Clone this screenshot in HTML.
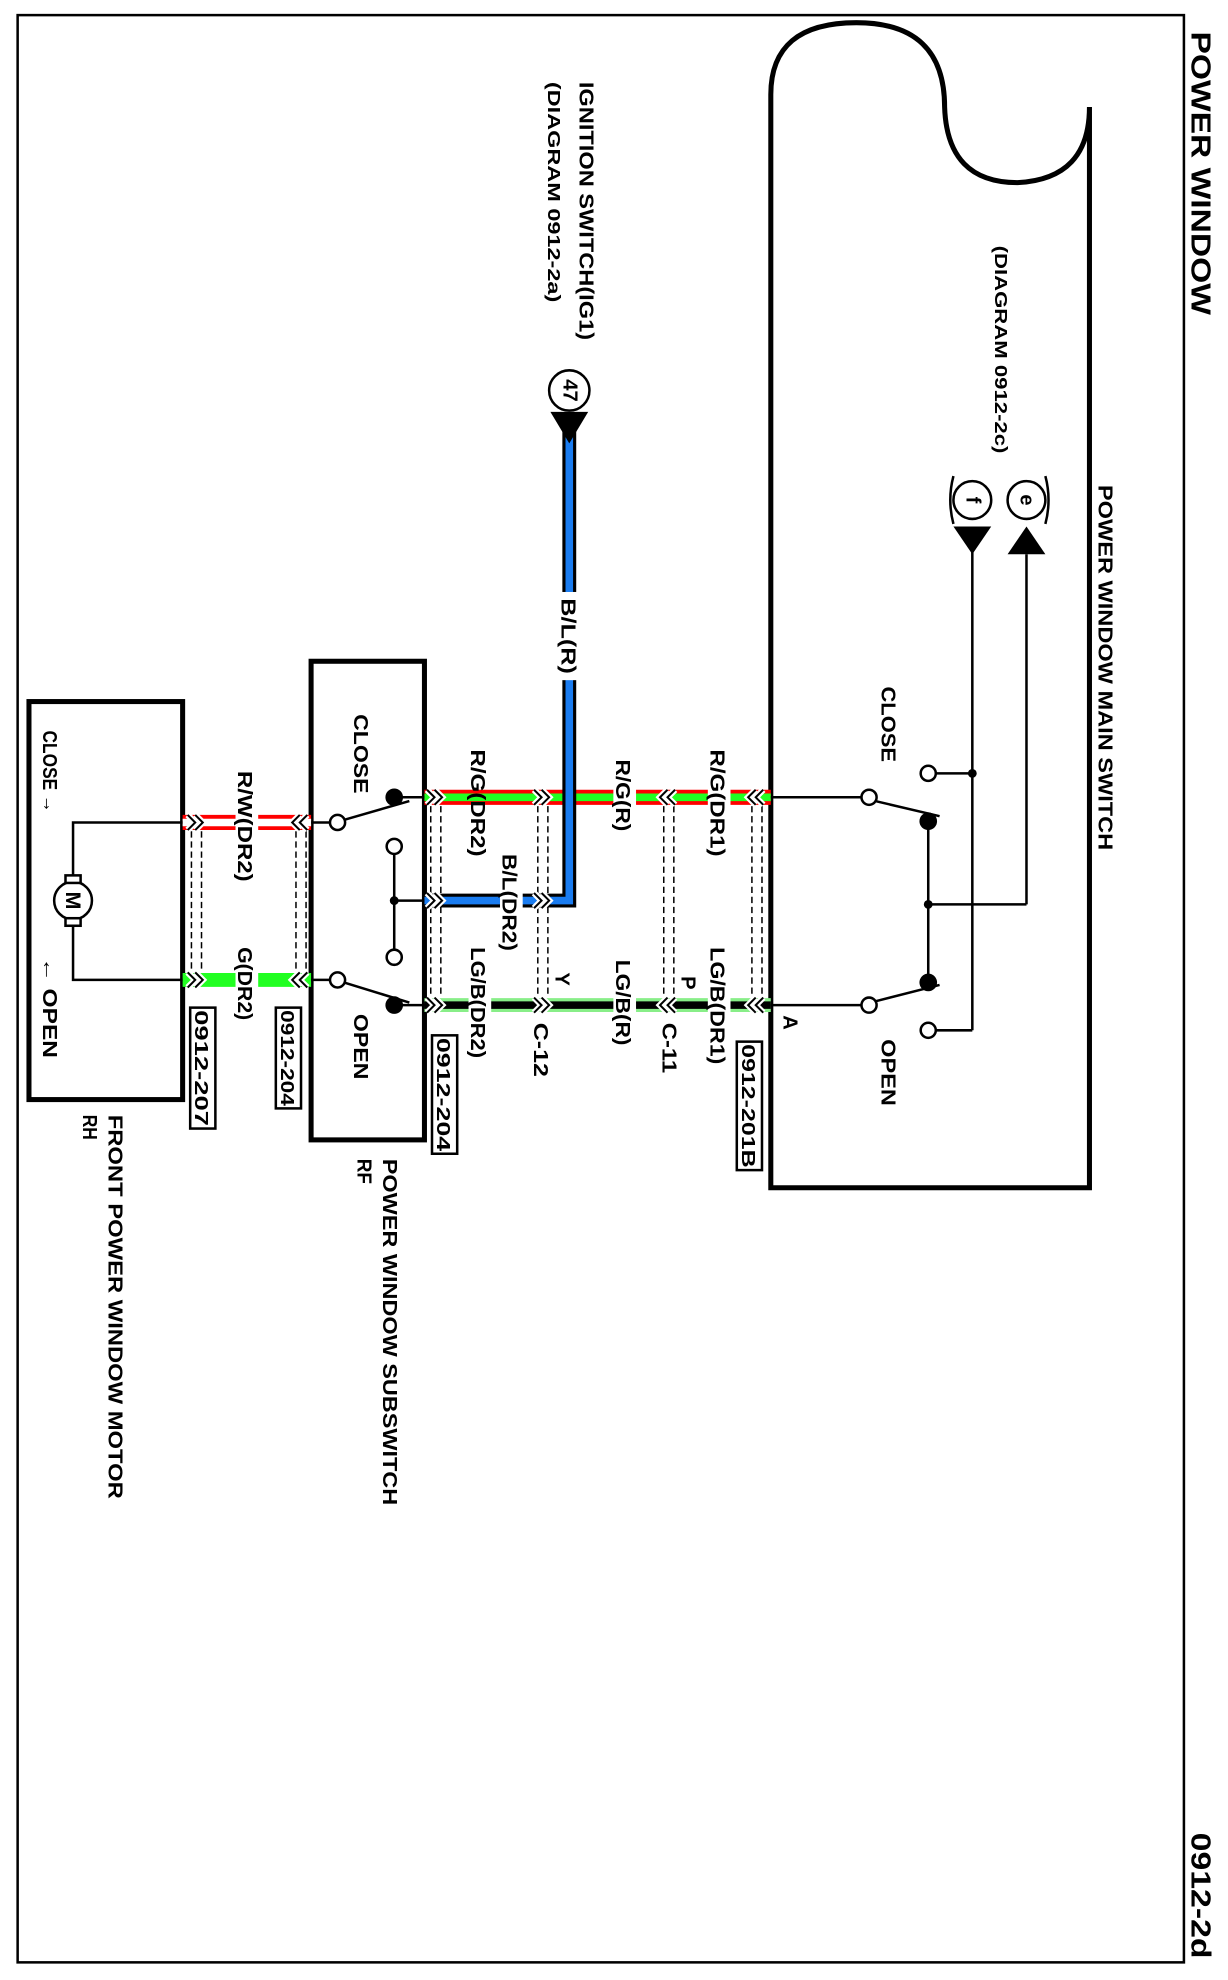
<!DOCTYPE html>
<html><head><meta charset="utf-8"><style>html,body{margin:0;padding:0;background:#fff}svg{display:block}text{font-family:"Liberation Sans",sans-serif;font-weight:bold}</style></head>
<body>
<svg width="1228" height="1980" viewBox="0 0 975 1572" preserveAspectRatio="none" xmlns="http://www.w3.org/2000/svg">
<rect x="0" y="0" width="975" height="1572" fill="#fff"/>
<rect x="14" y="12" width="926" height="1546" fill="none" stroke="#000" stroke-width="2"/>
<defs>
<g id="chR"><path d="M-6,-6 L0,0 L-6,6 M0,-6 L6,0 L0,6" fill="none" stroke="#fff" stroke-width="5"/><path d="M-6,-6 L0,0 L-6,6 M0,-6 L6,0 L0,6" fill="none" stroke="#000" stroke-width="1.6"/></g>
<g id="chL"><path d="M6,-6 L0,0 L6,6 M0,-6 L-6,0 L0,6" fill="none" stroke="#fff" stroke-width="5"/><path d="M6,-6 L0,0 L6,6 M0,-6 L-6,0 L0,6" fill="none" stroke="#000" stroke-width="1.6"/></g>
</defs>
<path d="M612,943 V75 Q612,18 680,18 Q750,18 750,85 Q752,145 808,145 Q865,142 865,85 V943 Z" fill="none" stroke="#000" stroke-width="4"/>
<rect x="247" y="525" width="90" height="380" fill="none" stroke="#000" stroke-width="4"/>
<rect x="23" y="557" width="122" height="316" fill="none" stroke="#000" stroke-width="4"/>

<g>
<line x1="337" y1="633" x2="612" y2="633" stroke="#f00" stroke-width="12"/>
<line x1="337" y1="633" x2="612" y2="633" stroke="#2f2" stroke-width="6"/>
<line x1="337" y1="798" x2="612" y2="798" stroke="#8e8" stroke-width="11"/>
<line x1="337" y1="798" x2="612" y2="798" stroke="#000" stroke-width="6"/>
<path d="M452,340 V715 H337" fill="none" stroke="#000" stroke-width="11"/>
<path d="M452,340 V715 H337" fill="none" stroke="#1a7cf0" stroke-width="6"/>
<line x1="145" y1="653" x2="247" y2="653" stroke="#f00" stroke-width="12"/>
<line x1="145" y1="653" x2="247" y2="653" stroke="#fff" stroke-width="6"/>
<line x1="145" y1="778" x2="247" y2="778" stroke="#2f2" stroke-width="11"/>
</g>
<g stroke="#000" stroke-width="1.2" stroke-dasharray="5,3">
<line x1="597" y1="640" x2="597" y2="792"/><line x1="605" y1="640" x2="605" y2="792"/>
<line x1="527" y1="640" x2="527" y2="792"/><line x1="535" y1="640" x2="535" y2="792"/>
<line x1="427" y1="640" x2="427" y2="792"/><line x1="435" y1="640" x2="435" y2="792"/>
<line x1="342" y1="640" x2="342" y2="792"/><line x1="350" y1="640" x2="350" y2="792"/>
<line x1="235" y1="660" x2="235" y2="772"/><line x1="243" y1="660" x2="243" y2="772"/>
<line x1="152" y1="660" x2="152" y2="772"/><line x1="160" y1="660" x2="160" y2="772"/>
</g>
<use href="#chL" x="600" y="633"/><use href="#chL" x="600" y="798"/>
<use href="#chL" x="530" y="633"/><use href="#chL" x="530" y="798"/>
<use href="#chR" x="430" y="633"/><use href="#chR" x="430" y="798"/><use href="#chR" x="430" y="715"/>
<use href="#chR" x="345" y="633"/><use href="#chR" x="345" y="798"/><use href="#chR" x="345" y="715"/>
<use href="#chL" x="238" y="653"/><use href="#chL" x="238" y="778"/>
<use href="#chR" x="155" y="653"/><use href="#chR" x="155" y="778"/>

<g stroke="#000" stroke-width="2" fill="none">
<line x1="612" y1="633" x2="684" y2="633"/><line x1="612" y1="798" x2="684" y2="798"/>
<line x1="695" y1="636" x2="746" y2="648"/><line x1="695" y1="795" x2="746" y2="782"/>
<line x1="737" y1="652" x2="737" y2="780"/>
<line x1="737" y1="718" x2="815" y2="718"/><line x1="815" y1="718" x2="815" y2="440"/>
<line x1="743" y1="614" x2="772" y2="614"/><line x1="743" y1="818" x2="772" y2="818"/>
<line x1="772" y1="818" x2="772" y2="425"/>
<circle cx="690" cy="633" r="6" fill="#fff"/><circle cx="690" cy="798" r="6" fill="#fff"/>
<circle cx="737" cy="614" r="6" fill="#fff"/><circle cx="737" cy="818" r="6" fill="#fff"/>
<circle cx="772" cy="397" r="15" fill="#fff"/><circle cx="815" cy="397" r="15" fill="#fff"/>
<path d="M757,378 Q752,397 757,416 M830,378 Q835,397 830,416"/>
</g>
<circle cx="737" cy="652" r="7"/><circle cx="737" cy="780" r="7"/><circle cx="737" cy="718" r="3.5"/><circle cx="772" cy="614" r="3.5"/>
<path d="M757,418 L787,418 L772,440 Z"/><path d="M800,440 L830,440 L815,418 Z"/>
<text x="772" y="397" font-size="16" text-anchor="middle" dominant-baseline="central" transform="rotate(90 772 397)">f</text>
<text x="815" y="397" font-size="16" text-anchor="middle" dominant-baseline="central" transform="rotate(90 815 397)">e</text>
<circle cx="452" cy="310" r="16" fill="#fff" stroke="#000" stroke-width="2"/>
<path d="M437,327 L467,327 L452,352 Z"/>
<text x="452" y="310" font-size="16" text-anchor="middle" dominant-baseline="central" transform="rotate(90 452 310)">47</text>

<g stroke="#000" stroke-width="2" fill="none">
<line x1="313" y1="633" x2="337" y2="633"/><line x1="313" y1="798" x2="337" y2="798"/>
<line x1="273" y1="651" x2="325" y2="636"/><line x1="273" y1="780" x2="325" y2="796"/>
<line x1="247" y1="653" x2="262" y2="653"/><line x1="247" y1="778" x2="262" y2="778"/>
<line x1="313" y1="672" x2="313" y2="760"/><line x1="313" y1="715" x2="337" y2="715"/>
<circle cx="268" cy="653" r="6" fill="#fff"/><circle cx="268" cy="778" r="6" fill="#fff"/>
<circle cx="313" cy="672" r="6" fill="#fff"/><circle cx="313" cy="760" r="6" fill="#fff"/>
</g>
<circle cx="313" cy="633" r="7"/><circle cx="313" cy="798" r="7"/><circle cx="313" cy="715" r="3.5"/>

<g stroke="#000" stroke-width="2" fill="none">
<path d="M145,653 H58 V700 M58,730 V778 H145"/>
<circle cx="58" cy="715" r="15" fill="#fff"/>
<rect x="52" y="695" width="12" height="6" fill="#fff"/><rect x="52" y="729" width="12" height="6" fill="#fff"/>
</g>
<text x="58" y="715" font-size="17" text-anchor="middle" dominant-baseline="central" transform="rotate(90 58 715)">M</text>

<g fill="#fff">
<rect x="444" y="470" width="18" height="70"/>
<rect x="372" y="600" width="18" height="22"/><rect x="372" y="645" width="18" height="36"/>
<rect x="487" y="600" width="18" height="70"/>
<rect x="562" y="593" width="18" height="90"/>
<rect x="397" y="676" width="18" height="80"/>
<rect x="372" y="750" width="18" height="92"/>
<rect x="487" y="760" width="18" height="72"/>
<rect x="562" y="750" width="18" height="96"/>
<rect x="187" y="610" width="18" height="92"/><rect x="187" y="750" width="18" height="62"/>
</g>
<g fill="#fff" stroke="#000" stroke-width="2">
<rect x="151" y="800" width="20" height="96"/>
<rect x="219" y="800" width="20" height="80"/>
<rect x="343" y="822" width="20" height="94"/>
<rect x="585" y="827" width="20" height="102"/>
</g>
<g font-size="16">
<text transform="translate(946,25) rotate(90)" font-size="22" font-weight="normal" textLength="225" lengthAdjust="spacingAndGlyphs">POWER WINDOW</text>
<text transform="translate(946,1455) rotate(90)" font-size="22" font-weight="normal" textLength="100" lengthAdjust="spacingAndGlyphs">0912-2d</text>
<text transform="translate(872,385) rotate(90)" textLength="290" lengthAdjust="spacingAndGlyphs">POWER WINDOW MAIN SWITCH</text>
<text transform="translate(790,195) rotate(90)" font-size="14" textLength="165" lengthAdjust="spacingAndGlyphs">(DIAGRAM  0912-2c)</text>
<text transform="translate(700,545) rotate(90)" textLength="60" lengthAdjust="spacingAndGlyphs">CLOSE</text>
<text transform="translate(700,825) rotate(90)" textLength="53" lengthAdjust="spacingAndGlyphs">OPEN</text>
<text transform="translate(622,806) rotate(90)">A</text>
<text transform="translate(460,65) rotate(90)" textLength="205" lengthAdjust="spacingAndGlyphs">IGNITION SWITCH(IG1)</text>
<text transform="translate(435,65) rotate(90)" font-size="14" textLength="175" lengthAdjust="spacingAndGlyphs">(DIAGRAM  0912-2a)</text>
<text transform="translate(446,475) rotate(90)" textLength="60" lengthAdjust="spacingAndGlyphs">B/L(R)</text>
<text transform="translate(374,595) rotate(90)" textLength="85" lengthAdjust="spacingAndGlyphs">R/G(DR2)</text>
<text transform="translate(489,603) rotate(90)" textLength="57" lengthAdjust="spacingAndGlyphs">R/G(R)</text>
<text transform="translate(564,595) rotate(90)" textLength="85" lengthAdjust="spacingAndGlyphs">R/G(DR1)</text>
<text transform="translate(399,678) rotate(90)" textLength="77" lengthAdjust="spacingAndGlyphs">B/L(DR2)</text>
<text transform="translate(374,752) rotate(90)" textLength="88" lengthAdjust="spacingAndGlyphs">LG/B(DR2)</text>
<text transform="translate(441,772) rotate(90)">Y</text>
<text transform="translate(489,762) rotate(90)" textLength="68" lengthAdjust="spacingAndGlyphs">LG/B(R)</text>
<text transform="translate(541,775) rotate(90)">P</text>
<text transform="translate(564,752) rotate(90)" textLength="93" lengthAdjust="spacingAndGlyphs">LG/B(DR1)</text>
<text transform="translate(424,812) rotate(90)" textLength="43" lengthAdjust="spacingAndGlyphs">C-12</text>
<text transform="translate(526,812) rotate(90)" textLength="40" lengthAdjust="spacingAndGlyphs">C-11</text>
<text transform="translate(589,829) rotate(90)" font-size="15" textLength="98" lengthAdjust="spacingAndGlyphs">0912-201B</text>
<text transform="translate(347,824) rotate(90)" font-size="15" textLength="90" lengthAdjust="spacingAndGlyphs">0912-204</text>
<text transform="translate(223,802) rotate(90)" font-size="15" textLength="76" lengthAdjust="spacingAndGlyphs">0912-204</text>
<text transform="translate(155,802) rotate(90)" font-size="15" textLength="92" lengthAdjust="spacingAndGlyphs">0912-207</text>
<text transform="translate(189,612) rotate(90)" textLength="88" lengthAdjust="spacingAndGlyphs">R/W(DR2)</text>
<text transform="translate(189,752) rotate(90)" textLength="58" lengthAdjust="spacingAndGlyphs">G(DR2)</text>
<text transform="translate(281,567) rotate(90)" textLength="63" lengthAdjust="spacingAndGlyphs">CLOSE</text>
<text transform="translate(281,805) rotate(90)" textLength="52" lengthAdjust="spacingAndGlyphs">OPEN</text>
<text transform="translate(304,920) rotate(90)" textLength="275" lengthAdjust="spacingAndGlyphs">POWER WINDOW SUBSWITCH</text>
<text transform="translate(284,920) rotate(90)" textLength="20" lengthAdjust="spacingAndGlyphs">RF</text>
<text transform="translate(34,580) rotate(90)" textLength="65" lengthAdjust="spacingAndGlyphs">CLOSE →</text>
<text transform="translate(34,760) rotate(90)" textLength="80" lengthAdjust="spacingAndGlyphs">← OPEN</text>
<text transform="translate(86,885) rotate(90)" textLength="305" lengthAdjust="spacingAndGlyphs">FRONT POWER WINDOW MOTOR</text>
<text transform="translate(66,885) rotate(90)" textLength="20" lengthAdjust="spacingAndGlyphs">RH</text>
</g>
</svg>
</body></html>
